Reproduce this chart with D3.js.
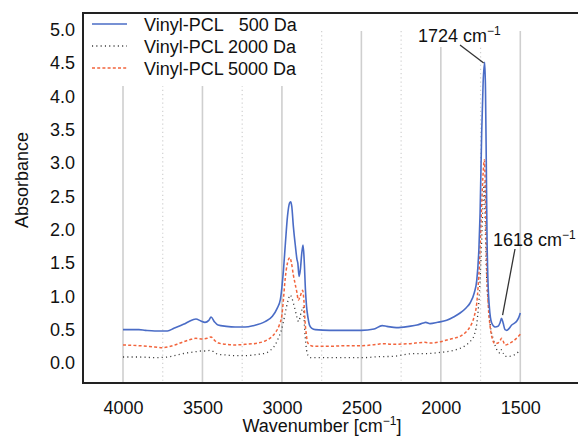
<!DOCTYPE html>
<html><head><meta charset="utf-8">
<script src="https://cdn.jsdelivr.net/npm/d3@7"></script>
<style>body{margin:0;background:#fff}svg{display:block}text{font-family:"Liberation Sans",Arial,Helvetica,sans-serif;fill:#111}</style>
</head><body><svg id="c" width="578" height="437"></svg>
<script>
// ---- data ----
const xTicks = [4000, 3500, 3000, 2500, 2000, 1500];
const xMinorGrid = [3750, 3250, 2750, 2250, 1750];
const yTicks = [0, 0.5, 1, 1.5, 2, 2.5, 3, 3.5, 4, 4.5, 5];
const seriesNames = ["Vinyl-PCL\u2007 500 Da", "Vinyl-PCL 2000 Da", "Vinyl-PCL 5000 Da"];

const pcl500Wn  = [4000,3900,3860,3800,3720,3680,3620,3560,3541,3510,3484,3460,3446,3425,3402,3350,3295,3232,3180,3106,3060,3030,3010,3000,2990,2978,2965,2952,2945,2938,2928,2915,2905,2900,2892,2884,2875,2867,2860,2852,2845,2836,2825,2811,2790,2700,2600,2500,2420,2370,2340,2280,2200,2150,2110,2095,2068,2020,1963,1920,1879,1840,1816,1790,1774,1760,1753,1743,1734,1724,1719,1714,1710,1703,1695,1680,1659,1640,1628,1618,1608,1596,1585,1570,1554,1535,1522,1510,1500];
const pcl500Abs = [0.50,0.50,0.49,0.48,0.48,0.52,0.58,0.65,0.66,0.63,0.61,0.64,0.69,0.62,0.57,0.55,0.54,0.54,0.56,0.62,0.70,0.82,0.95,1.14,1.40,1.80,2.20,2.40,2.42,2.35,2.05,1.75,1.55,1.50,1.30,1.40,1.65,1.77,1.55,1.10,0.85,0.68,0.56,0.52,0.50,0.49,0.49,0.49,0.51,0.56,0.55,0.53,0.55,0.57,0.60,0.61,0.59,0.61,0.64,0.69,0.75,0.83,0.90,1.05,1.24,1.74,2.25,3.45,4.20,4.51,4.10,3.00,2.00,1.20,0.85,0.60,0.54,0.55,0.60,0.67,0.60,0.50,0.49,0.52,0.57,0.60,0.63,0.68,0.75];

const pcl2000Wn  = [4000,3900,3800,3720,3660,3600,3541,3510,3480,3446,3420,3402,3350,3300,3232,3150,3100,3060,3040,3023,3005,2992,2975,2960,2949,2938,2928,2915,2905,2895,2880,2866,2858,2848,2835,2820,2700,2600,2500,2383,2300,2175,2100,2000,1963,1920,1879,1840,1816,1790,1774,1753,1742,1732,1727,1722,1712,1700,1690,1669,1648,1628,1618,1608,1596,1570,1540,1511,1500];
const pcl2000Abs = [0.09,0.09,0.08,0.09,0.12,0.15,0.17,0.18,0.18,0.19,0.15,0.13,0.12,0.11,0.11,0.13,0.15,0.22,0.28,0.37,0.48,0.60,0.80,0.95,1.02,0.98,0.90,0.78,0.68,0.62,0.75,0.84,0.55,0.25,0.11,0.08,0.08,0.08,0.08,0.095,0.10,0.14,0.14,0.16,0.17,0.19,0.22,0.27,0.32,0.42,0.59,1.24,1.90,2.55,2.70,2.20,1.30,0.85,0.59,0.35,0.20,0.15,0.20,0.15,0.10,0.10,0.12,0.17,0.20];

const pcl5000Wn  = [4000,3900,3800,3750,3700,3640,3580,3541,3500,3470,3446,3420,3400,3350,3300,3232,3150,3106,3070,3040,3018,3000,2991,2980,2965,2950,2940,2928,2918,2905,2897,2885,2870,2862,2855,2846,2840,2825,2800,2700,2600,2500,2400,2364,2300,2200,2100,2068,2000,1963,1920,1879,1840,1816,1790,1774,1757,1745,1735,1726,1720,1712,1701,1690,1680,1659,1640,1628,1618,1608,1596,1580,1565,1550,1533,1515,1500];
const pcl5000Abs = [0.27,0.26,0.24,0.23,0.25,0.30,0.35,0.37,0.36,0.37,0.39,0.33,0.30,0.28,0.27,0.28,0.30,0.33,0.38,0.46,0.56,0.72,0.94,1.25,1.50,1.58,1.50,1.32,1.20,1.05,0.94,1.00,1.09,0.95,0.64,0.42,0.32,0.27,0.25,0.25,0.26,0.26,0.28,0.29,0.28,0.29,0.31,0.30,0.32,0.345,0.37,0.40,0.47,0.545,0.70,0.90,1.50,2.25,2.80,3.05,2.60,1.50,0.84,0.55,0.40,0.29,0.30,0.33,0.37,0.33,0.27,0.28,0.30,0.32,0.35,0.39,0.43];

const peakLabels = [1724, 1618];

// ---- layout ----
const svg = d3.select("#c");
const pLeft = 83, pTop = 13, pBottom = 383, pRight = 620;
const x = d3.scaleLinear().domain([4000, 1500]).range([123, 520.3]);
const y = d3.scaleLinear().domain([0, 5]).range([363, 29.7]);

// gridlines
const gTop = y(4.98);
svg.append("g").selectAll("line").data(xTicks).join("line")
  .attr("x1", d => x(d)).attr("x2", d => x(d)).attr("y1", gTop).attr("y2", pBottom)
  .attr("stroke", "#cfcfcf").attr("stroke-width", 1.6);
svg.append("g").selectAll("line").data(xMinorGrid).join("line")
  .attr("x1", d => x(d)).attr("x2", d => x(d)).attr("y1", gTop).attr("y2", pBottom)
  .attr("stroke", "#d0d0d0").attr("stroke-width", 1.2).attr("stroke-dasharray", "1.2,3");

// series
const series = [
  {wn: pcl500Wn, ab: pcl500Abs, color: "#4a6cc6", dash: null, w: 1.6},
  {wn: pcl2000Wn, ab: pcl2000Abs, color: "#3a3a3a", dash: "1.1,3.2", w: 1.3},
  {wn: pcl5000Wn, ab: pcl5000Abs, color: "#f2643c", dash: "3,2.2", w: 1.5}
];
const line = d3.line().x(d => x(d[0])).y(d => y(d[1])).curve(d3.curveMonotoneX);
const drawOrder = [1, 2, 0];
drawOrder.forEach(i => {
  const s = series[i];
  svg.append("path").datum(d3.zip(s.wn, s.ab)).attr("d", line)
    .attr("fill", "none").attr("stroke", s.color).attr("stroke-width", s.w)
    .attr("stroke-dasharray", s.dash).attr("stroke-linejoin", "round");
});

// legend background + entries
svg.append("rect").attr("x", pLeft + 1).attr("y", pTop + 1).attr("width", 228).attr("height", 72).attr("fill", "#fff");
const lg = svg.append("g");
seriesNames.forEach((name, i) => {
  const ly = 24 + i * 22;
  const s = series[i];
  lg.append("line").attr("x1", 92).attr("x2", 127).attr("y1", ly).attr("y2", ly)
    .attr("stroke", s.color).attr("stroke-width", s.w).attr("stroke-dasharray", s.dash);
  lg.append("text").attr("x", 144).attr("y", ly + 6.5).attr("font-size", 18).text(name);
});

// peak annotations
svg.append("rect").attr("x", 405).attr("y", pTop + 1).attr("width", 100).attr("height", 33).attr("fill", "#fff");
function cmLabel(tx, ty, val) {
  const t = svg.append("text").attr("x", tx).attr("y", ty).attr("font-size", 18);
  t.append("tspan").text(val + " cm");
  t.append("tspan").attr("dy", -7).attr("font-size", 12).text("\u22121");
}
cmLabel(418, 42, peakLabels[0]);
svg.append("line").attr("x1", 460).attr("y1", 45).attr("x2", x(peakLabels[0]) - 1).attr("y2", y(4.5))
  .attr("stroke", "#333").attr("stroke-width", 1.3);
cmLabel(493, 246, peakLabels[1]);
svg.append("line").attr("x1", 515).attr("y1", 249).attr("x2", x(peakLabels[1]) + 1).attr("y2", y(0.72))
  .attr("stroke", "#333").attr("stroke-width", 1.3);

// frame
svg.append("path").attr("d", `M${pRight},${pTop}H${pLeft}V${pBottom}H${pRight}`)
  .attr("fill", "none").attr("stroke", "#222").attr("stroke-width", 2);

// axes tick labels
const xa = svg.append("g").attr("transform", `translate(0,${pBottom})`)
  .call(d3.axisBottom(x).tickValues(xTicks).tickSize(0).tickPadding(18).tickFormat(d3.format("d")));
xa.select(".domain").remove();
xa.selectAll("text").attr("font-size", 18).attr("font-family", null).attr("fill", "#111");
const ya = svg.append("g").attr("transform", `translate(${pLeft},0)`)
  .call(d3.axisLeft(y).tickValues(yTicks).tickSize(0).tickPadding(8).tickFormat(d3.format(".1f")));
ya.select(".domain").remove();
ya.selectAll("text").attr("font-size", 18).attr("font-family", null).attr("fill", "#111");

// axis titles
svg.append("text").attr("transform", "translate(28,180) rotate(-90)").attr("text-anchor", "middle")
  .attr("font-size", 18).text("Absorbance");
const xt = svg.append("text").attr("x", 322).attr("y", 432).attr("text-anchor", "middle").attr("font-size", 18);
xt.append("tspan").text("Wavenumber [cm");
xt.append("tspan").attr("dy", -7).attr("font-size", 12).text("\u22121");
xt.append("tspan").attr("dy", 7).text("]");
</script></body></html>
